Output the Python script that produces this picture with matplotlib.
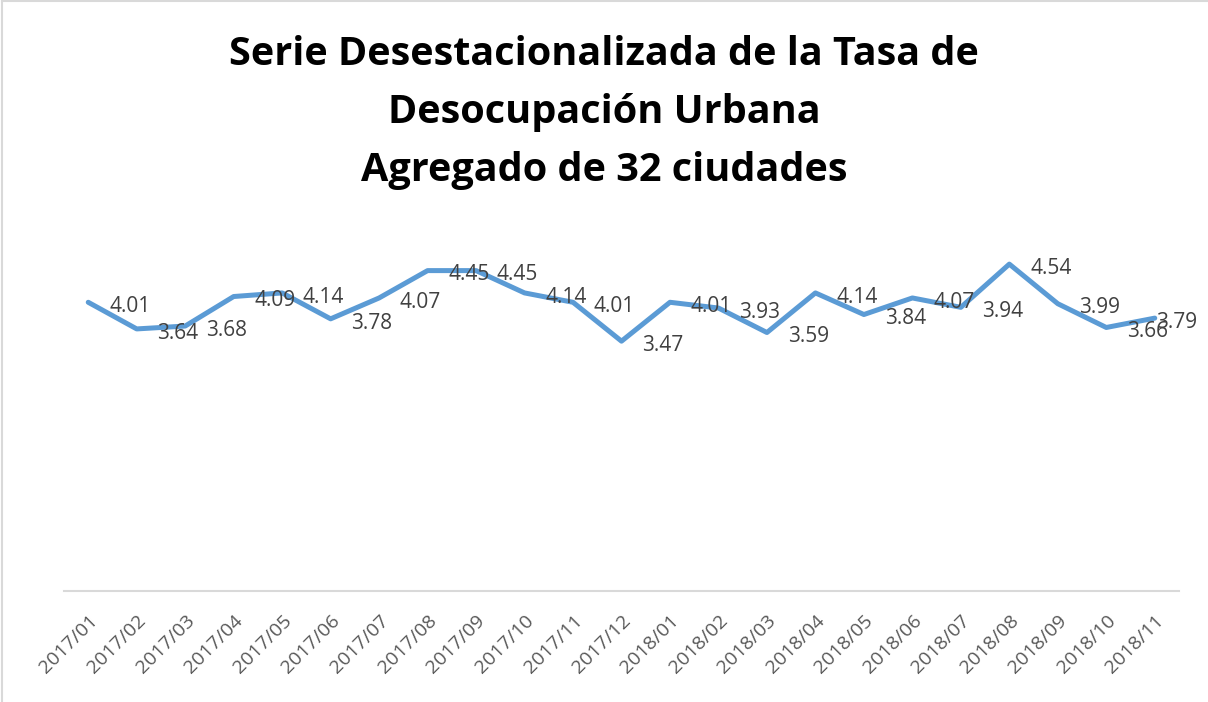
import matplotlib
matplotlib.use('Agg')
import matplotlib.pyplot as plt
import numpy as np

# Data
periods = ['2017/01', '2017/02', '2017/03', '2017/04', '2017/05', '2017/06',
           '2017/07', '2017/08', '2017/09', '2017/10', '2017/11', '2017/12',
           '2018/01', '2018/02', '2018/03', '2018/04', '2018/05', '2018/06',
           '2018/07', '2018/08', '2018/09', '2018/10', '2018/11']
rate = [4.01, 3.64, 3.68, 4.09, 4.14, 3.78, 4.07, 4.45, 4.45, 4.14, 4.01, 3.47,
        4.01, 3.93, 3.59, 4.14, 3.84, 4.07, 3.94, 4.54, 3.99, 3.66, 3.79]

title_lines = ['Serie Desestacionalizada de la Tasa de',
               'Desocupación Urbana',
               'Agregado de 32 ciudades']

plt.rcParams['font.family'] = ['Open Sans', 'DejaVu Sans']

fig = plt.figure(figsize=(12.08, 7.02), dpi=100)
ax = fig.add_axes([64/1208, (702-591)/702, (1179-64)/1208, (591-231)/702])

x = np.arange(len(periods))
ax.plot(x, rate, color='#5b9bd5', linewidth=3.6, solid_joinstyle='round', solid_capstyle='round')

# Data labels to the right of each point (last one pushed inside the plot area)
for xi, yi in zip(x, rate):
    dx = 15 if xi < len(periods) - 1 else 1
    ax.annotate('%.2f' % yi, (xi, yi), xytext=(dx, -3), textcoords='offset points',
                ha='left', va='center', fontsize=15, color='#404040')

ax.set_xlim(-0.5, len(periods) - 0.5)
ax.set_ylim(0, 5)
ax.set_xticks(x)
ax.set_xticklabels(periods, rotation=45, ha='right', va='top', rotation_mode='anchor',
                   fontsize=14, color='#595959')
ax.tick_params(axis='x', length=0, pad=15)
ax.set_yticks([])
for s in ['left', 'right', 'top']:
    ax.spines[s].set_visible(False)
ax.spines['bottom'].set_color('#d9d9d9')
ax.spines['bottom'].set_linewidth(1.5)

# Title, one line at a time (baselines in pixels from the top)
for line, base in zip(title_lines, [65, 123, 181]):
    fig.text(0.5, 1 - base/702, line, ha='center', va='baseline', fontsize=28.5,
             fontweight='bold', color='black')

# Chart border (left and top edges visible in the screenshot)
fig.add_artist(plt.Line2D([2/1208, 2/1208], [0, 1 - 1/702], color='#d9d9d9', linewidth=1.5))
fig.add_artist(plt.Line2D([2/1208, 1], [1 - 1/702, 1 - 1/702], color='#d9d9d9', linewidth=1.5))

plt.savefig('out.png', dpi=100)
